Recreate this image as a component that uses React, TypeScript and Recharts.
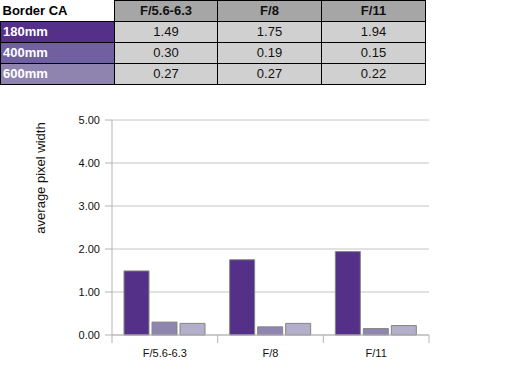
import React from "react";
import { BarChart, Bar, XAxis, YAxis, CartesianGrid } from "recharts";

const categories = ["F/5.6-6.3", "F/8", "F/11"];
const seriesNames = ["180mm", "400mm", "600mm"];
const values180 = [1.49, 1.75, 1.94];
const values400 = [0.3, 0.19, 0.15];
const values600 = [0.27, 0.27, 0.22];
const yTicks = [0, 1, 2, 3, 4, 5];
const tableTitle = "Border CA";
const yLabel = "average pixel width";

const seriesValues = [values180, values400, values600];
const seriesColors = ["#553089", "#8e86ae", "#b3aec9"];
const rowColors = ["#553089", "#7060a0", "#8f84b0"];

const data = categories.map((c, i) => ({
  name: c,
  s0: values180[i],
  s1: values400[i],
  s2: values600[i],
}));

const FONT = "'Liberation Sans', Arial, sans-serif";

const XTick = (props: any) => {
  const { x, y, payload, index } = props;
  const off = payload && payload.offset ? payload.offset : 0;
  const isLast = index === categories.length - 1;
  return (
    <g>
      <line x1={x - off} x2={x - off} y1={y - 13} y2={y - 5} stroke="#b3b3b3" strokeWidth={1} />
      {isLast && (
        <line x1={x + off} x2={x + off} y1={y - 13} y2={y - 5} stroke="#b3b3b3" strokeWidth={1} />
      )}
      <text x={x} y={y} dy={9} textAnchor="middle" fontSize={11} fill="#111" fontFamily={FONT}>
        {payload.value}
      </text>
    </g>
  );
};

const cellBase: React.CSSProperties = {
  border: "1px solid #000",
  padding: 0,
  height: 20,
  fontSize: 13,
  lineHeight: "20px",
  fontFamily: FONT,
  overflow: "hidden",
  whiteSpace: "nowrap",
};

export default function App() {
  return (
    <div style={{ position: "absolute", left: 0, top: 0, width: 509, height: 379, background: "#fff", overflow: "hidden" }}>
      <table
        style={{
          position: "absolute",
          left: 0,
          top: 0,
          borderCollapse: "collapse",
          tableLayout: "fixed",
          width: 426,
        }}
      >
        <colgroup>
          <col style={{ width: 114 }} />
          <col style={{ width: 103 }} />
          <col style={{ width: 104 }} />
          <col style={{ width: 104 }} />
        </colgroup>
        <tbody>
          <tr>
            <td style={{ ...cellBase, borderTop: "none", borderLeft: "none", fontWeight: "bold", textAlign: "left", paddingLeft: 2, color: "#000" }}>
              {tableTitle}
            </td>
            {categories.map((c) => (
              <td key={c} style={{ ...cellBase, background: "#a6a6a6", fontWeight: "bold", textAlign: "center", color: "#111" }}>
                {c}
              </td>
            ))}
          </tr>
          {seriesNames.map((s, r) => (
            <tr key={s}>
              <td style={{ ...cellBase, background: rowColors[r], color: "#fff", fontWeight: "bold", textAlign: "left", paddingLeft: 2 }}>
                {s}
              </td>
              {seriesValues[r].map((v, i) => (
                <td key={i} style={{ ...cellBase, background: "#d0d0d0", textAlign: "center", color: "#111" }}>
                  {v.toFixed(2)}
                </td>
              ))}
            </tr>
          ))}
        </tbody>
      </table>
      <div style={{ position: "absolute", left: 0, top: 0 }}>
        <BarChart
          width={509}
          height={379}
          data={data}
          margin={{ top: 120, right: 80, bottom: 14, left: 52 }}
          barCategoryGap={12}
          barGap={3}
        >
          <CartesianGrid horizontal vertical={false} stroke="#c4c4c4" />
          <XAxis
            dataKey="name"
            interval={0}
            tickLine={false}
            tickSize={8}
            tickMargin={5}
            height={30}
            axisLine={{ stroke: "#b3b3b3" }}
            tick={<XTick />}
          />
          <YAxis
            domain={[0, 5]}
            ticks={yTicks}
            interval={0}
            width={60}
            tickSize={7}
            tickMargin={5}
            tickFormatter={(v: number) => v.toFixed(2)}
            tick={{ fontSize: 11, fill: "#111", fontFamily: FONT }}
            tickLine={{ stroke: "#b3b3b3" }}
            axisLine={{ stroke: "#b3b3b3" }}
            label={{
              content: () => (
                <text
                  x={45}
                  y={178}
                  transform="rotate(-90, 45, 178)"
                  textAnchor="middle"
                  fontSize={13}
                  fill="#111"
                  fontFamily={FONT}
                >
                  {yLabel}
                </text>
              ),
            }}
          />
          {seriesNames.map((s, i) => (
            <Bar
              key={s}
              dataKey={`s${i}`}
              name={s}
              fill={seriesColors[i]}
              stroke="#858585"
              strokeWidth={1}
              isAnimationActive={false}
            />
          ))}
        </BarChart>
      </div>
    </div>
  );
}
